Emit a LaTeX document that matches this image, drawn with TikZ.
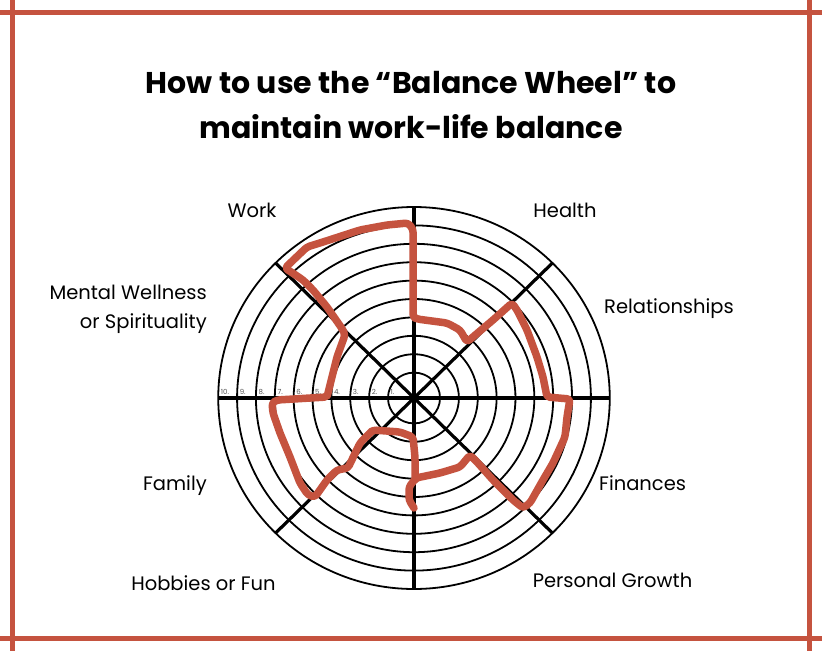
\documentclass[tikz,border=0pt]{standalone}
\usepackage{fontspec}
\setmainfont{Poppins}
\newfontfamily\titlefont{Poppins}[UprightFont=* Bold]
\definecolor{wheelred}{HTML}{C5533F}
\definecolor{numgray}{HTML}{555555}
\begin{document}
\begin{tikzpicture}[x=1pt,y=-1pt,
  frameline/.style={draw=wheelred,line width=5pt},
  ring/.style={draw=black,line width=1.8pt},
  spoke/.style={draw=black,line width=3.2pt},
  scoreline/.style={draw=wheelred,line width=7.5pt,line cap=round,line join=round,rounded corners=3pt},
  lbl/.style={font=\fontsize{19.5}{23}\selectfont,inner sep=0pt,text=black},
  ttl/.style={font=\titlefont\fontsize{30}{36}\selectfont,inner sep=0pt,text=black},
  num/.style={font=\fontsize{7}{8}\selectfont,inner sep=0pt,text=numgray,anchor=base west}]
\useasboundingbox (0,0) rectangle (822,651);
\fill[white] (0,0) rectangle (822,651);
% frame lines
\coordinate (ftl) at (0,12.5); \coordinate (ftr) at (822,12.5);
\coordinate (fbl) at (0,638.5); \coordinate (fbr) at (822,638.5);
\coordinate (flt) at (12.5,0); \coordinate (flb) at (12.5,651);
\coordinate (frt) at (809,0); \coordinate (frb) at (809,651);
\draw[frameline] (ftl) -- (ftr);
\draw[frameline] (fbl) -- (fbr);
\draw[frameline] (flt) -- (flb);
\draw[frameline] (frt) -- (frb);
% title
\node[ttl,anchor=base] (title1) at (411,93) {How to use the “Balance Wheel” to};
\node[ttl,anchor=base] (title2) at (411,138) {maintain work-life balance};
% wheel
\coordinate (c) at (414,398);
\foreach \k in {1,...,10} {
  \pgfmathsetmacro\r{7+18.4*\k}
  \pgfmathsetmacro\rx{1.025*\r}
  \draw[ring] (c) ellipse[x radius=\rx pt, y radius=\r pt];
}
\coordinate (sl) at (218.2,398); \coordinate (sr) at (609.8,398);
\coordinate (st) at (414,207); \coordinate (sb) at (414,589);
\coordinate (d1) at (275.6,263); \coordinate (d2) at (552.4,533);
\coordinate (d3) at (552.4,263); \coordinate (d4) at (275.6,533);
\draw[spoke] (sl) -- (sr);
\draw[spoke] (st) -- (sb);
\draw[spoke] (d1) -- (d2);
\draw[spoke] (d3) -- (d4);
% scale numbers
\foreach \k in {1,...,10} {
  \pgfmathsetmacro\xx{414-1.025*(7+18.4*\k)+2.5}
  \node[num] (n\k) at (\xx,394.5) {\k.};
}
% score line
\draw[scoreline] (414,508) -- (409,500) -- (409,487) -- (416,478) -- (440,473) -- (460,467) -- (470,455) -- (477,462) -- (493,480) -- (513,500) -- (523,508) -- (530,503) -- (543,480) -- (553,463) -- (565,437) -- (567,417) -- (570,399) -- (547,397) -- (543,377) -- (537,357) -- (527,330) -- (517,310) -- (512,303) -- (493,320) -- (467,342) -- (460,330) -- (447,323) -- (417,319) -- (413,317) -- (413,229) -- (408,223) -- (387,225) -- (360,230) -- (323,242) -- (307,247) -- (285,268) -- (303,280) -- (313,290) -- (327,307) -- (343,330) -- (345,335) -- (337,357) -- (332,377) -- (328,393) -- (327,397) -- (277,400) -- (272,403) -- (273,413) -- (280,433) -- (290,457) -- (300,483) -- (308,495) -- (315,497) -- (327,480) -- (337,470) -- (348,468) -- (360,443) -- (370,433) -- (373,430) -- (400,432) -- (413,437) -- (415,457) -- (415,480);
% labels
\node[lbl,anchor=base] (work) at (252,217) {Work};
\node[lbl,anchor=base] (health) at (565,217) {Health};
\node[lbl,anchor=base west] (rel) at (604,313) {Relationships};
\node[lbl,anchor=base east] (mw1) at (207,299) {Mental Wellness};
\node[lbl,anchor=base east] (mw2) at (207,328) {or Spirituality};
\node[lbl,anchor=base east] (family) at (207,490) {Family};
\node[lbl,anchor=base west] (fin) at (599,490) {Finances};
\node[lbl,anchor=base] (hob) at (203.5,590) {Hobbies or Fun};
\node[lbl,anchor=base] (pg) at (612.5,587) {Personal Growth};
\end{tikzpicture}
\end{document}
